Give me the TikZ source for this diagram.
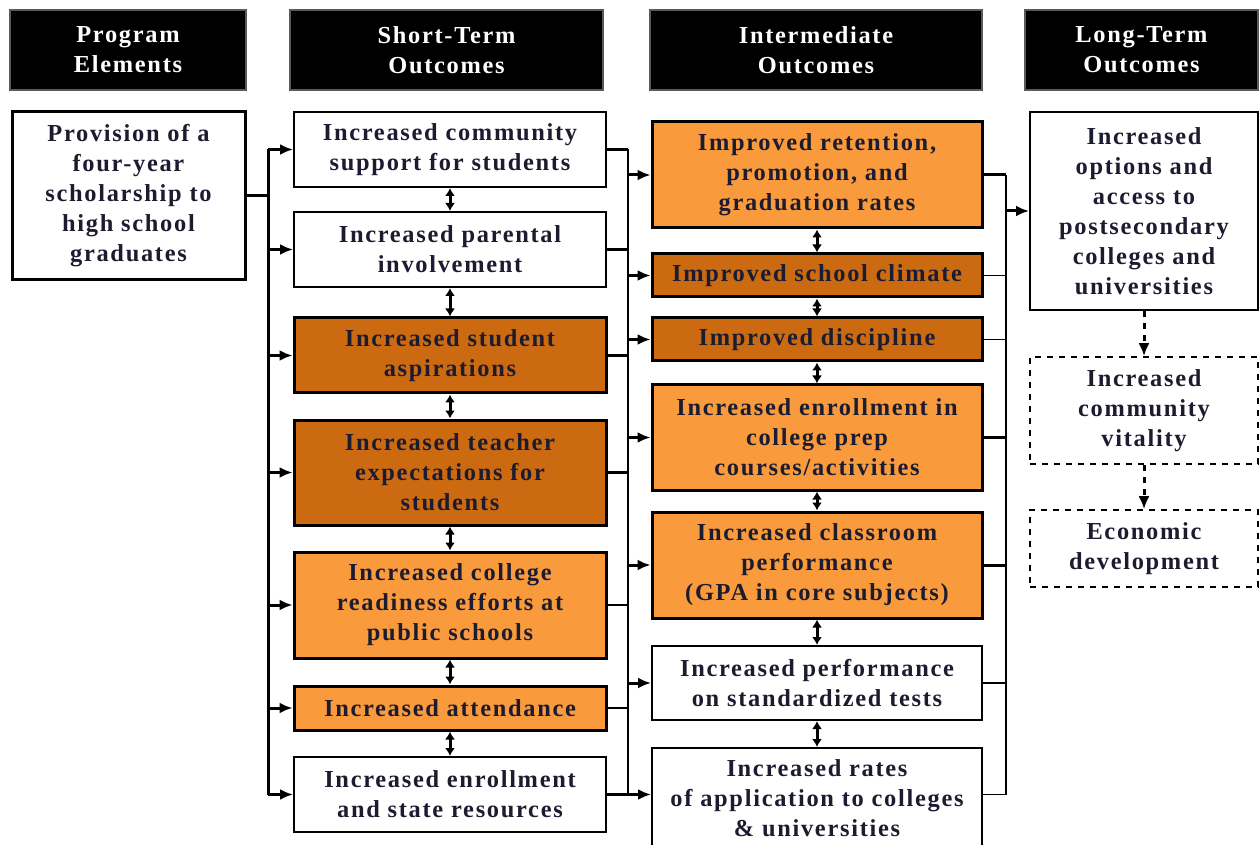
\documentclass[tikz,border=0pt]{standalone}
\usepackage{fontspec}
\setmainfont{Liberation Serif}[LetterSpace=7]
\usetikzlibrary{arrows.meta, positioning}
\usepackage{xcolor}
\definecolor{lightor}{HTML}{F99A3C}
\definecolor{darkor}{HTML}{CC6A12}
\definecolor{ink}{HTML}{1C1C30}

\begin{document}
\begin{tikzpicture}[x=0.5pt,y=-0.5pt,>={Latex[length=6.5pt,width=5.5pt]}]
    \tikzstyle{box}=[draw=black, line width=1pt, fill=white, align=center, text=ink, inner sep=2pt, font=\fontsize{12.2}{15}\selectfont\bfseries]
    \tikzstyle{light box}=[box, fill=lightor, line width=1.5pt]
    \tikzstyle{dark box}=[box, fill=darkor, line width=1.5pt]
    \tikzstyle{dash box}=[box, dashed, line width=0.8pt]
    \tikzstyle{header}=[box, fill=black, draw=black!65, text=white, minimum height=40pt]
    \tikzstyle{bus}=[line width=1.5pt]
    \tikzstyle{thin bus}=[line width=0.8pt]
    \tikzstyle{link}=[line width=1.5pt, {Latex[length=4pt,width=5pt]}-{Latex[length=4pt,width=5pt]}]

    \useasboundingbox (0,0) rectangle (1259,845);

    % column headings
    \node[header, minimum width=118pt] (hPE) at (128,50) {Program\\Elements};
    \node[header, minimum width=156.5pt] (hST) at (446.5,50) {Short-Term\\Outcomes};
    \node[header, minimum width=166pt] (hIM) at (816,50) {Intermediate\\Outcomes};
    \node[header, minimum width=116.5pt] (hLT) at (1141.5,50) {Long-Term\\Outcomes};

    \node[box, line width=1.5pt, minimum width=116.5pt, minimum height=84pt] (prov) at (128.5,196)
        {Provision of a\\four-year\\scholarship to\\high school\\graduates};

    % short-term column
    \foreach \n/\y/\h/\s/\t in {
        1/149.5/37.5/box/{Increased community\\support for students},
        2/249.5/37.5/box/{Increased parental\\involvement},
        3/355.5/37.5/dark box/{Increased student\\aspirations},
        4/472.5/52.5/dark box/{Increased teacher\\expectations for\\students},
        5/605/53/light box/{Increased college\\readiness efforts at\\public schools},
        6/708/22/light box/{Increased attendance},
        7/794.5/37.5/box/{Increased enrollment\\and state resources}}{
        \node[\s, minimum width=156pt, minimum height=\h pt] (st\n) at (450,\y) {\t};
    }

    % intermediate column
    \foreach \n/\y/\h/\s/\t in {
        1/175/53/light box/{Improved retention,\\promotion, and\\graduation rates},
        2/275.5/21.5/dark box/{Improved school climate},
        3/339.5/21.5/dark box/{Improved discipline},
        4/437.5/52.5/light box/{Increased enrollment in\\college prep\\courses/activities},
        5/565/53/light box/{Increased classroom\\performance\\(GPA in core subjects)},
        6/683/37/box/{Increased performance\\on standardized tests},
        7/798/50/box/{Increased rates\\of application to colleges\\\& universities}}{
        \node[\s, minimum width=165pt, minimum height=\h pt] (im\n) at (817,\y) {\t};
    }

    % long-term column
    \node[box, minimum width=114pt, minimum height=99pt] (lt1) at (1144,211)
        {Increased\\options and\\access to\\postsecondary\\colleges and\\universities};
    \node[dash box, minimum width=114pt, minimum height=53.5pt] (lt2) at (1144,410.5)
        {Increased\\community\\vitality};
    \node[dash box, minimum width=114pt, minimum height=38.5pt] (lt3) at (1144,548.5)
        {Economic\\development};

    \coordinate (bL) at (268,196);
    \coordinate (bM) at (628,196);
    \coordinate (bR) at (1006,196);

    % program -> short-term
    \draw[bus] (prov.east) -- (bL);
    \draw[bus] (st1.west -| bL) -- (st7.west -| bL);
    \foreach \i in {1,...,7}
        \draw[bus,->] (st\i.west -| bL) -- (st\i.west);

    % short-term -> intermediate
    \foreach \i/\w in {1/bus,2/bus,3/bus,4/bus,5/thin bus,6/thin bus,7/bus}
        \draw[\w] (st\i.east) -- (st\i.east -| bM);
    \draw[thin bus] (st1.east -| bM) -- (st7.east -| bM);
    \foreach \i in {1,...,6}
        \draw[bus,->] (im\i.west -| bM) -- (im\i.west);
    \draw[bus,->] (st7.east -| bM) -- (st7.east -| im7.west);

    % intermediate -> long-term
    \foreach \i/\w in {1/bus,2/thin bus,3/thin bus,4/bus,5/bus,6/thin bus}
        \draw[\w] (im\i.east) -- (im\i.east -| bR);
    \draw[thin bus] (im7.east |- st7.east) -- (st7.east -| bR);
    \draw[thin bus] (im1.east -| bR) -- (st7.east -| bR);
    \draw[bus,->] (lt1.west -| bR) -- (lt1.west);

    % links inside the columns
    \foreach \i/\j in {1/2,2/3,3/4,4/5,5/6,6/7}{
        \draw[link] (st\i.south) -- (st\j.north);
        \draw[link] (im\i.south) -- (im\j.north);
    }
    \draw[bus,->,dashed] (lt1.south) -- (lt2.north);
    \draw[bus,->,dashed] (lt2.south) -- (lt3.north);
\end{tikzpicture}
\end{document}
